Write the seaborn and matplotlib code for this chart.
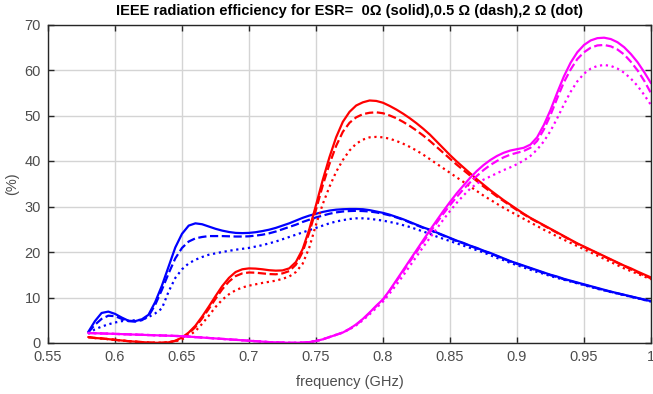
import numpy as np
import pandas as pd
import matplotlib
matplotlib.use("Agg")
import matplotlib.pyplot as plt
import seaborn as sns

freq = [0.580, 0.585, 0.590, 0.595, 0.600, 0.605, 0.610, 0.615, 0.620, 0.625,
        0.630, 0.635, 0.640, 0.645, 0.650, 0.655, 0.660, 0.665, 0.670, 0.675,
        0.680, 0.685, 0.690, 0.695, 0.700, 0.705, 0.710, 0.715, 0.720, 0.725,
        0.730, 0.735, 0.740, 0.745, 0.750, 0.755, 0.760, 0.765, 0.770, 0.775,
        0.780, 0.785, 0.790, 0.795, 0.800, 0.805, 0.810, 0.815, 0.820, 0.825,
        0.830, 0.835, 0.840, 0.845, 0.850, 0.855, 0.860, 0.865, 0.870, 0.875,
        0.880, 0.885, 0.890, 0.895, 0.900, 0.905, 0.910, 0.915, 0.920, 0.925,
        0.930, 0.935, 0.940, 0.945, 0.950, 0.955, 0.960, 0.965, 0.970, 0.975,
        0.980, 0.985, 0.990, 0.995, 1.000]

blue_solid = [2.4, 4.8, 6.6, 6.9, 6.4, 5.6, 4.9, 4.8, 5.2, 6.2,
              9.0, 12.6, 16.8, 21.0, 24.0, 25.8, 26.3, 26.1, 25.6, 25.1,
              24.7, 24.4, 24.2, 24.15, 24.2, 24.35, 24.6, 24.9, 25.3, 25.8,
              26.3, 26.9, 27.5, 28.0, 28.4, 28.8, 29.1, 29.3, 29.4, 29.45,
              29.45, 29.4, 29.2, 28.9, 28.6, 28.2, 27.7, 27.2, 26.6, 26.0,
              25.4, 24.9, 24.3, 23.7, 23.1, 22.5, 22.0, 21.4, 20.9, 20.3,
              19.8, 19.2, 18.6, 18.0, 17.5, 17.0, 16.5, 16.0, 15.5, 15.0,
              14.6, 14.1, 13.7, 13.3, 12.9, 12.5, 12.1, 11.7, 11.3, 10.95,
              10.6, 10.25, 9.9, 9.55, 9.2]
blue_dash = [2.3, 4.0, 5.3, 6.0, 5.9, 5.3, 4.8, 4.7, 5.0, 5.9,
             8.4, 11.7, 15.3, 18.6, 20.9, 22.3, 23.0, 23.3, 23.5, 23.5,
             23.5, 23.45, 23.4, 23.4, 23.45, 23.6, 23.8, 24.1, 24.5, 25.0,
             25.5, 26.0, 26.6, 27.1, 27.6, 28.0, 28.4, 28.7, 28.9, 29.0,
             29.05, 29.0, 28.9, 28.7, 28.4, 28.05, 27.6, 27.1, 26.5, 25.9,
             25.3, 24.8, 24.2, 23.6, 23.0, 22.4, 21.9, 21.3, 20.8, 20.2,
             19.7, 19.1, 18.5, 17.9, 17.4, 16.9, 16.4, 15.9, 15.4, 14.9,
             14.5, 14.0, 13.6, 13.2, 12.8, 12.4, 12.0, 11.6, 11.25, 10.9,
             10.55, 10.2, 9.85, 9.5, 9.15]
blue_dot = [2.0, 3.0, 3.6, 4.1, 4.5, 4.8, 4.9, 5.0, 5.1, 5.7,
            6.5, 7.6, 11.3, 14.3, 16.2, 17.5, 18.3, 18.9, 19.4, 19.7,
            20.0, 20.25, 20.5, 20.7, 20.9, 21.2, 21.5, 21.9, 22.3, 22.8,
            23.3, 23.8, 24.3, 24.8, 25.3, 25.8, 26.3, 26.7, 27.0, 27.25,
            27.4, 27.4, 27.3, 27.1, 26.9, 26.6, 26.3, 25.9, 25.5, 25.0,
            24.5, 24.0, 23.4, 22.9, 22.4, 21.9, 21.4, 20.9, 20.4, 19.9,
            19.3, 18.7, 18.2, 17.6, 17.1, 16.6, 16.1, 15.6, 15.2, 14.7,
            14.3, 13.9, 13.5, 13.1, 12.7, 12.3, 11.9, 11.55, 11.2, 10.85,
            10.5, 10.15, 9.8, 9.45, 9.1]

red_solid = [1.3, 1.1, 1.0, 0.85, 0.7, 0.55, 0.4, 0.3, 0.2, 0.1,
             0.05, 0.05, 0.15, 0.5, 1.2, 2.3, 3.8, 5.8, 8.0, 10.3,
             12.5, 14.3, 15.6, 16.2, 16.4, 16.35, 16.2, 16.0, 15.9, 15.95,
             16.4, 17.8, 20.6, 25.0, 30.3, 35.8, 40.8, 45.2, 48.6, 50.8,
             52.2, 52.9, 53.3, 53.2, 52.8, 52.1, 51.3, 50.4, 49.4, 48.3,
             47.1, 45.8, 44.3, 42.8, 41.3, 39.9, 38.6, 37.3, 36.0, 34.8,
             33.6, 32.5, 31.4, 30.4, 29.4, 28.4, 27.5, 26.7, 25.9, 25.1,
             24.3, 23.5, 22.7, 21.9, 21.2, 20.5, 19.8, 19.1, 18.4, 17.7,
             17.0, 16.4, 15.7, 15.05, 14.4]
red_dash = [1.3, 1.1, 1.0, 0.85, 0.7, 0.55, 0.4, 0.3, 0.2, 0.1,
            0.05, 0.05, 0.15, 0.45, 1.1, 2.1, 3.5, 5.4, 7.5, 9.7,
            11.8, 13.5, 14.7, 15.3, 15.5, 15.45, 15.3, 15.15, 15.1, 15.3,
            15.8, 17.2, 20.0, 24.3, 29.3, 34.6, 39.3, 43.3, 46.4, 48.4,
            49.6, 50.3, 50.6, 50.7, 50.5, 50.0, 49.4, 48.6, 47.7, 46.7,
            45.6, 44.4, 43.1, 41.8, 40.5, 39.2, 38.0, 36.8, 35.6, 34.4,
            33.3, 32.2, 31.2, 30.2, 29.2, 28.3, 27.4, 26.6, 25.8, 25.0,
            24.2, 23.4, 22.6, 21.8, 21.1, 20.4, 19.7, 19.0, 18.3, 17.6,
            16.9, 16.2, 15.5, 14.85, 14.2]
red_dot = [1.3, 1.1, 1.0, 0.85, 0.7, 0.55, 0.4, 0.3, 0.2, 0.1,
           0.05, 0.05, 0.15, 0.35, 0.8, 1.6, 2.6, 4.2, 6.0, 7.9,
           9.5, 10.7, 11.6, 12.2, 12.6, 12.9, 13.2, 13.45, 13.7, 14.1,
           14.6, 15.6, 17.4, 21.0, 26.0, 30.5, 34.3, 37.6, 40.2, 42.3,
           43.8, 44.7, 45.2, 45.3, 45.2, 44.9, 44.4, 43.8, 43.1, 42.3,
           41.4, 40.4, 39.4, 38.4, 37.4, 36.4, 35.4, 34.4, 33.4, 32.4,
           31.5, 30.6, 29.7, 28.9, 28.1, 27.3, 26.5, 25.7, 24.9, 24.2,
           23.4, 22.7, 22.0, 21.3, 20.6, 19.9, 19.2, 18.5, 17.8, 17.1,
           16.4, 15.8, 15.2, 14.6, 14.0]

mag_solid = [2.2, 2.15, 2.1, 2.05, 2.0, 1.95, 1.9, 1.85, 1.8, 1.75,
             1.7, 1.65, 1.6, 1.55, 1.5, 1.4, 1.3, 1.2, 1.1, 1.0,
             0.9, 0.8, 0.7, 0.6, 0.5, 0.4, 0.3, 0.2, 0.15, 0.1,
             0.05, 0.05, 0.1, 0.2, 0.45, 0.8, 1.3, 1.8, 2.3, 3.1,
             4.1, 5.3, 6.7, 8.2, 9.6, 11.6, 13.8, 16.0, 18.2, 20.4,
             22.6, 24.8, 26.9, 29.0, 31.0, 32.9, 34.6, 36.3, 37.8, 39.1,
             40.2, 41.1, 41.8, 42.3, 42.6, 42.9, 43.6, 45.2, 47.9, 51.2,
             55.0, 58.6, 61.6, 63.9, 65.5, 66.5, 67.0, 67.1, 66.8, 66.1,
             65.0, 63.5, 61.7, 59.5, 57.1]
mag_dash = [2.2, 2.15, 2.1, 2.05, 2.0, 1.95, 1.9, 1.85, 1.8, 1.75,
            1.7, 1.65, 1.6, 1.55, 1.5, 1.4, 1.3, 1.2, 1.1, 1.0,
            0.9, 0.8, 0.7, 0.6, 0.5, 0.4, 0.3, 0.2, 0.15, 0.1,
            0.05, 0.05, 0.1, 0.2, 0.45, 0.8, 1.3, 1.8, 2.3, 3.1,
            4.0, 5.2, 6.6, 8.1, 9.5, 11.5, 13.6, 15.7, 17.9, 20.0,
            22.2, 24.3, 26.4, 28.4, 30.3, 32.1, 33.8, 35.3, 36.7, 38.0,
            39.1, 40.0, 40.8, 41.4, 41.8, 42.2, 42.9, 44.4, 46.9, 50.1,
            53.8, 57.3, 60.1, 62.4, 63.9, 64.9, 65.4, 65.5, 65.2, 64.5,
            63.4, 61.8, 59.9, 57.6, 54.9]
mag_dot = [2.2, 2.15, 2.1, 2.05, 2.0, 1.95, 1.9, 1.85, 1.8, 1.75,
           1.7, 1.65, 1.6, 1.55, 1.5, 1.4, 1.3, 1.2, 1.1, 1.0,
           0.9, 0.8, 0.7, 0.6, 0.5, 0.4, 0.3, 0.2, 0.15, 0.1,
           0.05, 0.05, 0.1, 0.2, 0.45, 0.8, 1.3, 1.8, 2.3, 3.0,
           3.9, 5.0, 6.3, 7.7, 9.1, 10.9, 12.8, 14.8, 16.9, 19.0,
           21.1, 23.1, 25.1, 27.1, 29.0, 30.8, 32.4, 33.9, 35.0, 35.9,
           36.6, 37.3, 38.0, 38.6, 39.3, 40.1, 41.1, 42.5, 44.3, 46.6,
           49.4, 52.4, 55.2, 57.5, 59.2, 60.3, 60.9, 61.1, 60.9, 60.3,
           59.4, 58.1, 56.5, 54.5, 52.3]

xticks = [0.55, 0.6, 0.65, 0.7, 0.75, 0.8, 0.85, 0.9, 0.95, 1.0]
xticklabels = ["0.55", "0.6", "0.65", "0.7", "0.75", "0.8", "0.85", "0.9", "0.95", "1"]
yticks = [0, 10, 20, 30, 40, 50, 60, 70]

sns.set_theme(style="whitegrid")
plt.rcParams["font.family"] = ["Liberation Sans", "DejaVu Sans"]

fig = plt.figure(figsize=(6.53, 3.94), dpi=100)
ax = fig.add_axes([48 / 653, 1 - 343 / 394, (651 - 48) / 653, (343 - 24.5) / 394])
ax.set_facecolor("white")

series = [
    (blue_solid, "#0000ff", "-"), (blue_dash, "#0000ff", "--"), (blue_dot, "#0000ff", ":"),
    (red_solid, "#ff0000", "-"), (red_dash, "#ff0000", "--"), (red_dot, "#ff0000", ":"),
    (mag_solid, "#ff00ff", "-"), (mag_dash, "#ff00ff", "--"), (mag_dot, "#ff00ff", ":"),
]
for vals, col, ls in series:
    sns.lineplot(x=freq, y=vals, color=col, linestyle=ls, linewidth=1.6, ax=ax,
                 errorbar=None, sort=False)

ax.set_xlim(0.55, 1.0)
ax.set_ylim(0, 70)
ax.set_xticks(xticks)
ax.set_xticklabels(xticklabels)
ax.set_yticks(yticks)
ax.grid(True, color="#d4d4d4", linewidth=1.0)
for s in ax.spines.values():
    s.set_color("#262626")
    s.set_linewidth(1.0)
    s.set_visible(True)
ax.tick_params(direction="in", length=4, width=1, colors="#262626",
               labelsize=10.5, top=True, right=True, bottom=True, left=True,
               labelcolor="#4d4d4d", pad=5)
ax.set_xlabel("frequency (GHz)", fontsize=10.5, color="#4d4d4d", labelpad=8)
ax.set_ylabel("(%)", fontsize=10.5, color="#4d4d4d", labelpad=4)
ax.set_title("IEEE radiation efficiency for ESR=  0\u03a9 (solid),0.5 \u03a9 (dash),2 \u03a9 (dot)",
             fontsize=10.5, fontweight="bold", color="black", pad=7)

fig.savefig("out.png", dpi=100)
